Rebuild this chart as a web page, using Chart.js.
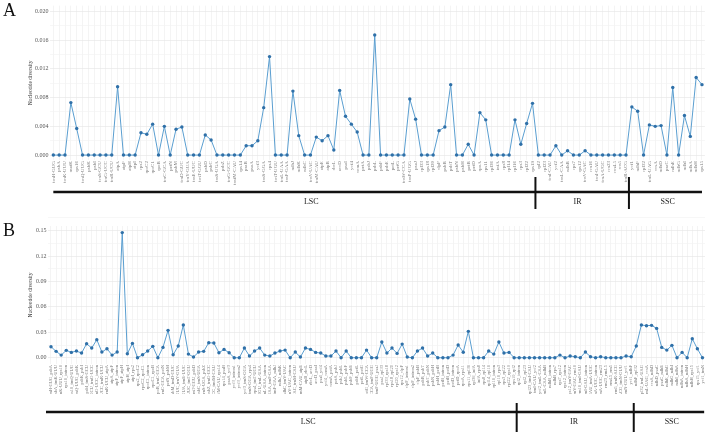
<!DOCTYPE html>
<html>
<head>
<meta charset="utf-8">
<script src="https://cdn.jsdelivr.net/npm/chart.js@4.4.1/dist/chart.umd.min.js"></script>
<style>
  body { margin: 0; background: #fff; width: 709px; height: 432px; overflow: hidden; position: relative; font-family: 'Liberation Serif', serif; }
  canvas { position: absolute; left: 0; }
  #chartA { top: 0; }
  #chartB { top: 216px; }
  .tag { position: absolute; left: 3px; font-size: 18px; line-height: 18px; color: #111; }
</style>
</head>
<body>
<canvas id="chartA" width="709" height="216"></canvas>
<canvas id="chartB" width="709" height="216"></canvas>
<div class="tag" style="top:1px">A</div>
<div class="tag" style="top:221px">B</div>
<script>
// panel A: coding regions
const genesA = [
    "trnH-GUG", "psbA", "trnK-UUU", "matK", "rps16", "trnQ-UUG", "psbK", "psbI", "trnS-GCU", "trnG-UCC",
    "trnR-UCU", "atpA", "atpF", "atpH", "atpI", "rps2", "rpoC2", "rpoC1", "rpoB", "trnC-GCA",
    "petN", "psbM", "trnD-GUC", "trnY-GUA", "trnE-UUC", "trnT-GGU", "psbD", "psbC", "trnS-UGA", "psbZ",
    "trnG-GCC", "trnfM-CAU", "rps14", "psaB", "psaA", "ycf3", "trnS-GGA", "rps4", "trnT-UGU", "trnL-UAA",
    "trnF-GAA", "ndhJ", "ndhK", "ndhC", "trnV-UAC", "trnM-CAU", "atpE", "atpB", "rbcL", "accD",
    "psaI", "ycf4", "cemA", "petA", "psbJ", "psbL", "psbF", "psbE", "petL", "petG",
    "trnW-CCA", "trnP-UGG", "psaJ", "rpl33", "rps18", "rpl20", "clpP", "psbB", "psbT", "psbN",
    "psbH", "petB", "petD", "rpoA", "rps11", "rpl36", "infA", "rps8", "rpl14", "rpl16",
    "rps3", "rpl22", "rps19",
    "rpl2", "rpl23", "trnI-CAU", "ycf2", "trnL-CAA", "ndhB", "rps7", "rps12", "trnV-GAC", "rrn16",
    "trnI-GAU", "trnA-UGC", "rrn23", "rrn4.5", "rrn5", "trnR-ACG",
    "ycf1", "ndhF", "rpl32", "trnL-UAG", "ccsA", "ndhD", "psaC", "ndhE", "ndhG", "ndhI",
    "ndhA", "ndhH", "rps15"
];
const piA = [
    0, 0, 0, 0.0073, 0.0037, 0, 0, 0, 0, 0,
    0, 0.0095, 0, 0, 0, 0.0031, 0.0029, 0.0043, 0, 0.0040,
    0, 0.0036, 0.0039, 0, 0, 0, 0.0028, 0.0021, 0, 0,
    0, 0, 0, 0.0013, 0.0013, 0.0020, 0.0066, 0.0137, 0, 0,
    0, 0.0089, 0.0027, 0, 0, 0.0025, 0.0020, 0.0027, 0.0007, 0.0090,
    0.0054, 0.0043, 0.0032, 0, 0, 0.0167, 0, 0, 0, 0,
    0, 0.0078, 0.0050, 0, 0, 0, 0.0034, 0.0039, 0.0098, 0,
    0, 0.0015, 0, 0.0059, 0.0049, 0, 0, 0, 0, 0.0049,
    0.0015, 0.0044, 0.0072, 0, 0, 0, 0.0013, 0, 0.0006, 0,
    0, 0.0006, 0, 0, 0, 0, 0, 0, 0, 0.0067,
    0.0061, 0, 0.0042, 0.0040, 0.0041, 0, 0.0094, 0, 0.0055, 0.0026,
    0.0108, 0.0098
];
const yTicksA = [0, 0.004, 0.008, 0.012, 0.016, 0.020];
const regionNames = ["LSC", "IR", "SSC"];
const regionSizeA = [83, 16, 13];

// panel B: intergenic spacers
const spacersB = [
    "trnH-GUG_psbA", "psbA_trnK-UUU", "trnK-UUU_rps16", "rps16_intron", "rps16_trnQ-UUG", "trnQ-UUG_psbK", "psbK_psbI", "psbI_trnS-GCU", "trnS-GCU_trnG-UCC", "trnG-UCC_intron",
    "trnG-UCC_trnR-UCU", "trnR-UCU_atpA", "atpA_atpF", "atpF_intron", "atpF_atpH", "atpH_atpI", "atpI_rps2", "rps2_rpoC2", "rpoC2_rpoC1", "rpoC1_intron",
    "rpoC1_rpoB", "rpoB_trnC-GCA", "trnC-GCA_petN", "petN_psbM", "psbM_trnD-GUC", "trnD-GUC_trnY-GUA", "trnY-GUA_trnE-UUC", "trnE-UUC_trnT-GGU", "trnT-GGU_psbD", "psbC_trnS-UGA",
    "trnS-UGA_psbZ", "psbZ_trnG-GCC", "trnG-GCC_trnfM-CAU", "trnfM-CAU_rps14", "rps14_psaB", "psaA_ycf3", "ycf3_intron1", "ycf3_intron2", "ycf3_trnS-GGA", "trnS-GGA_rps4",
    "rps4_trnT-UGU", "trnT-UGU_trnL-UAA", "trnL-UAA_intron", "trnL-UAA_trnF-GAA", "trnF-GAA_ndhJ", "ndhJ_ndhK", "ndhC_trnV-UAC", "trnV-UAC_intron", "trnV-UAC_trnM-CAU", "trnM-CAU_atpE",
    "atpB_rbcL", "rbcL_accD", "accD_psaI", "psaI_ycf4", "ycf4_cemA", "cemA_petA", "petA_psbJ", "psbJ_psbL", "psbL_psbF", "psbF_psbE",
    "psbE_petL", "petL_petG", "petG_trnW-CCA", "trnW-CCA_trnP-UGG", "trnP-UGG_psaJ", "psaJ_rpl33", "rpl33_rps18", "rps18_rpl20", "rpl20_rps12", "rps12_clpP",
    "clpP_intron1", "clpP_intron2", "clpP_psbB", "psbB_psbT", "psbT_psbN", "psbN_psbH", "psbH_petB", "petB_intron", "petB_petD", "petD_intron",
    "petD_rpoA", "rpoA_rps11", "rps11_rpl36", "rpl36_infA", "infA_rps8", "rps8_rpl14", "rpl14_rpl16", "rpl16_intron", "rpl16_rps3", "rps3_rpl22",
    "rpl22_rps19", "rps19_rpl2",
    "rpl2_intron", "rpl2_rpl23", "rpl23_trnI-CAU", "trnI-CAU_ycf2", "ycf2_trnL-CAA", "trnL-CAA_ndhB", "ndhB_intron", "ndhB_rps7", "rps7_rps12", "rps12_intron",
    "rps12_trnV-GAC", "trnV-GAC_rrn16", "rrn16_trnI-GAU", "trnI-GAU_intron", "trnI-GAU_trnA-UGC", "trnA-UGC_intron", "trnA-UGC_rrn23", "rrn23_rrn4.5", "rrn4.5_rrn5", "rrn5_trnR-ACG",
    "trnR-ACG_trnN-GUU", "trnN-GUU_ycf1", "ycf1_ndhF",
    "ndhF_rpl32", "rpl32_trnL-UAG", "trnL-UAG_ccsA", "ccsA_ndhD", "ndhD_psaC", "psaC_ndhE", "ndhE_ndhG", "ndhG_ndhI", "ndhI_ndhA", "ndhA_intron",
    "ndhA_ndhH", "ndhH_rps15", "rps15_ycf1", "ycf1_trnN"
];
const piB = [
    0.0130, 0.0075, 0.0031, 0.0087, 0.0063, 0.0079, 0.0055, 0.0165, 0.0114, 0.0213,
    0.0067, 0.0106, 0.0031, 0.0067, 0.1476, 0.0047, 0.0169, 0, 0.0035, 0.0079,
    0.0134, 0, 0.0122, 0.0323, 0.0035, 0.0138, 0.0386, 0.0043, 0.0008, 0.0067,
    0.0075, 0.0177, 0.0173, 0.0059, 0.0098, 0.0059, 0, 0, 0.0114, 0.0020,
    0.0079, 0.0114, 0.0031, 0.0020, 0.0055, 0.0079, 0.0090, 0, 0.0067, 0.0008,
    0.0114, 0.0098, 0.0063, 0.0055, 0.0020, 0.0020, 0.0079, 0, 0.0079, 0,
    0, 0, 0.0090, 0, 0, 0.0185, 0.0055, 0.0114, 0.0051, 0.0161,
    0.0008, 0, 0.0079, 0.0114, 0.0020, 0.0055, 0, 0, 0, 0.0031,
    0.0150, 0.0065, 0.0311, 0, 0, 0, 0.0079, 0.0043, 0.0185, 0.0055,
    0.0063, 0, 0, 0, 0, 0, 0, 0, 0, 0,
    0.0031, 0, 0.0020, 0.0012, 0, 0.0067, 0.0012, 0, 0.0012, 0,
    0, 0, 0, 0.0020, 0.0012, 0.0138, 0.0386, 0.0378, 0.0382, 0.0346,
    0.0122, 0.0090, 0.0146, 0, 0.0063, 0, 0.0224, 0.0106, 0
];
const yTicksB = [0, 0.03, 0.06, 0.09, 0.12, 0.15];
const regionSizeB = [92, 23, 14];

const serif = "'Liberation Serif', 'Times New Roman', serif";

// black bar with LSC / IR / SSC under the x labels
const regionBar = {
    id: "regionBar",
    afterDraw(chart, args, o) {
        const ctx = chart.ctx;
        const x = chart.scales.x;
        const y = chart.chartArea.bottom + o.gap;
        const x0 = x.getPixelForValue(0) + o.padL;
        const x1 = x.getPixelForValue(x.max) + o.padR;
        ctx.save();
        ctx.strokeStyle = "#111";
        ctx.lineWidth = 2.5;
        ctx.beginPath();
        ctx.moveTo(x0, y);
        ctx.lineTo(x1, y);
        ctx.stroke();
        ctx.fillStyle = "#222";
        ctx.font = "8px " + serif;
        ctx.textAlign = "center";
        ctx.textBaseline = "middle";
        let idx = 0, start = x0;
        o.sizes.forEach((n, i) => {
            idx += n;
            const last = i === o.sizes.length - 1;
            const end = last ? x1 : (x.getPixelForValue(idx - 1) + x.getPixelForValue(idx)) / 2;
            if (!last) {
                ctx.lineWidth = 2;
                ctx.beginPath();
                ctx.moveTo(end, y - o.up);
                ctx.lineTo(end, y + o.down);
                ctx.stroke();
            }
            ctx.fillText(o.names[i], start + (end - start) * o.frac[i], y + 9.5);
            start = end;
        });
        ctx.restore();
    }
};

function makeChart(id, labels, values, yTicks, dec, range, pad, labelSize, bar) {
    const step = yTicks[1] - yTicks[0];
    const allTicks = [];
    yTicks.forEach(v => { allTicks.push(v); allTicks.push(v + step / 2); });
    const isMajor = v => yTicks.some(t => Math.abs(t - v) < step / 100);

    return new Chart(document.getElementById(id).getContext("2d"), {
        type: "line",
        data: {
            labels: labels,
            datasets: [{
                data: values,
                borderColor: "#5a9ed0",
                borderWidth: 1,
                pointRadius: 1.7,
                pointBackgroundColor: "#2f70a8",
                pointBorderWidth: 0,
                tension: 0
            }]
        },
        options: {
            responsive: false,
            animation: false,
            devicePixelRatio: 1,
            layout: { padding: pad },
            plugins: {
                legend: { display: false },
                tooltip: { enabled: false },
                regionBar: bar
            },
            scales: {
                x: {
                    offset: true,
                    afterFit: s => { s.height = 30; },
                    border: { display: false },
                    grid: { offset: false, color: "#ececec", lineWidth: 0.6, drawTicks: false },
                    ticks: {
                        autoSkip: false, maxRotation: 90, minRotation: 90, padding: 1,
                        font: { family: serif, size: labelSize }, color: "#7a7a7a"
                    }
                },
                y: {
                    min: range[0],
                    max: range[1],
                    afterBuildTicks: s => { s.ticks = allTicks.map(v => ({ value: v })); },
                    afterFit: s => { s.width = pad.yWidth; },
                    border: { display: false },
                    grid: {
                        color: c => isMajor(c.tick.value) ? "#e8e8e8" : "#f3f3f3",
                        lineWidth: 0.7, drawTicks: false
                    },
                    ticks: {
                        padding: 2,
                        callback: v => isMajor(v) ? v.toFixed(dec) : "",
                        font: { family: serif, size: 6 }, color: "#555"
                    },
                    title: {
                        display: true, text: "Nucleotide diversity",
                        font: { family: serif, size: 5.5 }, color: "#333",
                        padding: { top: 0, bottom: 0 }
                    }
                }
            }
        },
        plugins: [regionBar]
    });
}

makeChart("chartA", genesA, piA, yTicksA, 3, [-0.0007, 0.0208],
    { left: 27.7, right: 3, top: 3.5, bottom: 25.9, yWidth: 22.7 }, 5,
    { sizes: regionSizeA, names: regionNames, gap: 31.9, padL: 0, padR: 0, up: 15, down: 17, frac: [0.535, 0.45, 0.53] });

makeChart("chartB", spacersB, piB, yTicksB, 2, [-0.0074, 0.1554],
    { left: 27.7, right: 3, top: 10, bottom: 38, yWidth: 20.75 }, 4.5,
    { sizes: regionSizeB, names: regionNames, gap: 48, padL: -5, padR: 1.7, up: 9, down: 20, frac: [0.557, 0.49, 0.54] });
</script>
</body>
</html>
